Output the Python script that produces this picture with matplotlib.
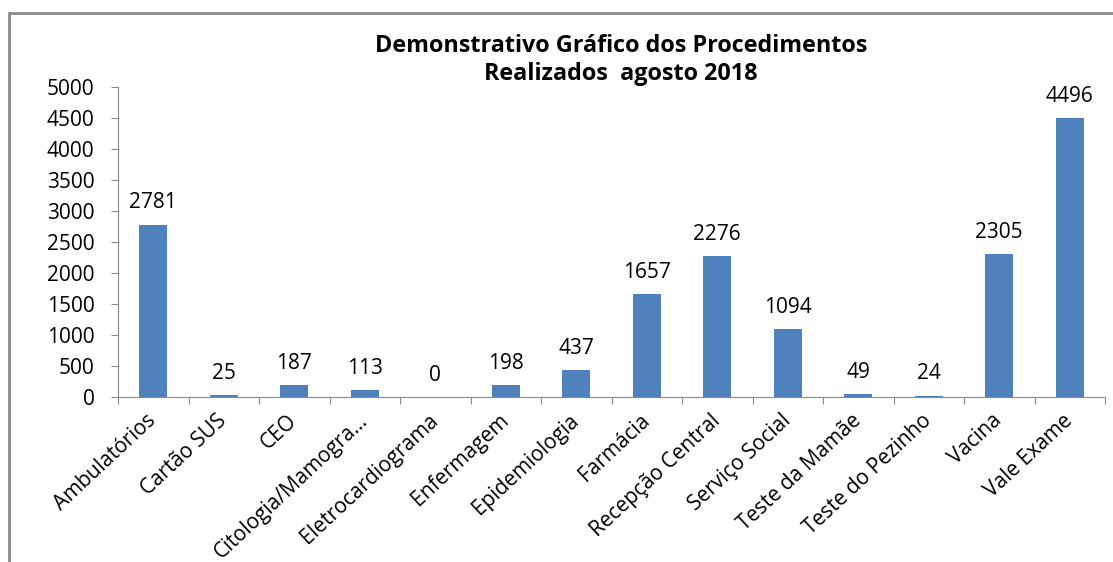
import matplotlib
matplotlib.use("Agg")
import matplotlib.pyplot as plt
from matplotlib.patches import Rectangle

categories = ["Ambulatórios", "Cartão SUS", "CEO", "Citologia/Mamogra...", "Eletrocardiograma",
              "Enfermagem", "Epidemiologia", "Farmácia", "Recepção Central", "Serviço Social",
              "Teste da Mamãe", "Teste do Pezinho", "Vacina", "Vale Exame"]
values = [2781, 25, 187, 113, 0, 198, 437, 1657, 2276, 1094, 49, 24, 2305, 4496]
yticks = [0, 500, 1000, 1500, 2000, 2500, 3000, 3500, 4000, 4500, 5000]
title = "Demonstrativo Gráfico dos Procedimentos\nRealizados  agosto 2018"

plt.rcParams['font.family'] = ['Open Sans', 'DejaVu Sans']

W, H = 1113, 562
fig = plt.figure(figsize=(W/100, H/100), dpi=100)
fig.patches.append(Rectangle((9/W, -0.05), 1.1, 1 - 13/H + 0.05, transform=fig.transFigure,
                             fill=False, edgecolor='#8a8a8a', linewidth=2))
ax = fig.add_axes([118/W, 1 - 397/H, (1105-118)/W, (397-87)/H])
x = list(range(len(categories)))
ax.bar(x, values, width=0.40, color='#4F81BD')
ax.set_xlim(-0.5, len(categories) - 0.5)
ax.set_ylim(0, 5000)
ax.set_yticks(yticks)
ax.set_yticklabels([str(v) for v in yticks], fontsize=15)
ax.set_xticks([i - 0.5 for i in range(len(categories) + 1)], minor=False)
ax.set_xticklabels([])
ax.set_xticks(x, minor=True)
ax.set_xticklabels(categories, minor=True, rotation=43, ha='right', va='center',
                   rotation_mode='anchor', fontsize=15)
ax.tick_params(axis='x', which='minor', length=0, pad=15)
ax.tick_params(axis='x', which='major', length=5, color='#8a8a8a', direction='out')
ax.tick_params(axis='y', length=5, color='#8a8a8a', direction='out', pad=12)
for s in ['top', 'right']:
    ax.spines[s].set_visible(False)
for s in ['left', 'bottom']:
    ax.spines[s].set_color('#8a8a8a')
for xi, v in zip(x, values):
    ax.annotate(str(v), (xi, v), xytext=(0, 8), textcoords='offset points',
                ha='center', va='bottom', fontsize=15)
fig.text(621/W, 1 - 60/H, title, ha='center', va='center', fontsize=16.8,
         fontweight='bold', linespacing=1.25)
fig.savefig("out.png", dpi=100)
